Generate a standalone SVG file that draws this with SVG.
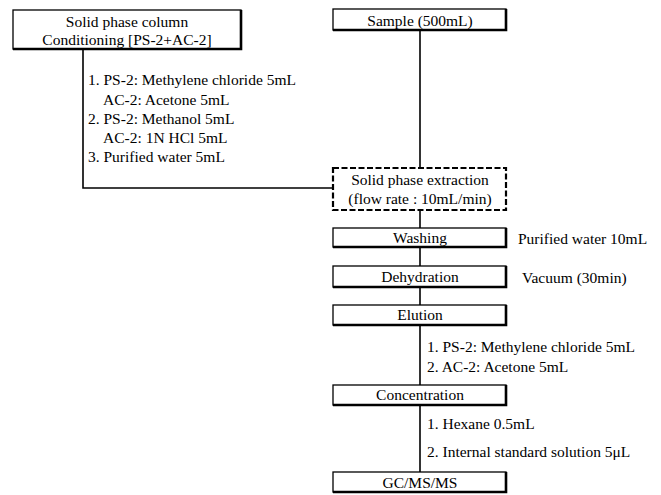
<svg xmlns="http://www.w3.org/2000/svg" width="661" height="495" viewBox="0 0 661 495">
<style>
text{font-family:"Liberation Serif","Times New Roman",serif;font-size:15.5px;fill:#000}
.c{text-anchor:middle}
.box{fill:#fff;stroke:#000;stroke-width:1.3}
.sh{fill:none;stroke:#000;stroke-width:2.6}
.dash{fill:#fff;stroke:#000;stroke-width:2.2;stroke-dasharray:6 2.5}
.ln{fill:none;stroke:#000;stroke-width:1.6}
</style>
<rect width="661" height="495" fill="#fff"/>
<g id="connectors">
<polyline class="ln" points="83,50 83,188 333,188"/>
<line class="ln" x1="420" y1="30" x2="420" y2="168"/>
<line class="ln" x1="420" y1="210" x2="420" y2="228"/>
<line class="ln" x1="420" y1="247" x2="420" y2="266"/>
<line class="ln" x1="420" y1="287" x2="420" y2="305"/>
<line class="ln" x1="420" y1="325" x2="420" y2="385"/>
<line class="ln" x1="420" y1="405" x2="420" y2="472"/>
</g>
<g id="conditioning">
<rect class="box" x="13" y="10" width="228" height="39"/>
<polyline class="sh" points="241,10 241,49 13,49"/>
<text class="c" x="127" y="27">Solid phase column</text>
<text class="c" x="127" y="45">Conditioning [PS-2+AC-2]</text>
</g>
<g id="conditioning-steps">
<text x="88" y="85">1. PS-2: Methylene chloride 5mL</text>
<text x="103" y="105">AC-2: Acetone 5mL</text>
<text x="88" y="124">2. PS-2: Methanol 5mL</text>
<text x="103" y="143">AC-2: 1N HCl 5mL</text>
<text x="88" y="162">3. Purified water 5mL</text>
</g>
<g id="sample">
<rect class="box" x="333" y="9" width="173" height="21"/>
<polyline class="sh" points="506,9 506,30 333,30"/>
<text class="c" x="420" y="26">Sample (500mL)</text>
</g>
<g id="spe">
<rect class="dash" x="333" y="168" width="173" height="42"/>
<text class="c" x="420" y="185">Solid phase extraction</text>
<text class="c" x="420" y="204">(flow rate : 10mL/min)</text>
</g>
<g id="washing">
<rect class="box" x="333" y="228" width="173" height="19"/>
<polyline class="sh" points="506,228 506,247 333,247"/>
<text class="c" x="420" y="243">Washing</text>
<text x="518" y="244">Purified water 10mL</text>
</g>
<g id="dehydration">
<rect class="box" x="333" y="266" width="173" height="21"/>
<polyline class="sh" points="506,266 506,287 333,287"/>
<text class="c" x="420" y="282">Dehydration</text>
<text x="522" y="283">Vacuum (30min)</text>
</g>
<g id="elution">
<rect class="box" x="333" y="305" width="173" height="20"/>
<polyline class="sh" points="506,305 506,325 333,325"/>
<text class="c" x="420" y="320">Elution</text>
</g>
<g id="elution-steps">
<text x="427" y="352">1. PS-2: Methylene chloride 5mL</text>
<text x="427" y="372">2. AC-2: Acetone 5mL</text>
</g>
<g id="concentration">
<rect class="box" x="333" y="385" width="173" height="20"/>
<polyline class="sh" points="506,385 506,405 333,405"/>
<text class="c" x="420" y="400">Concentration</text>
</g>
<g id="concentration-steps">
<text x="427" y="429">1. Hexane 0.5mL</text>
<text x="427" y="457">2. Internal standard solution 5μL</text>
</g>
<g id="gcmsms">
<rect class="box" x="333" y="472" width="173" height="20"/>
<polyline class="sh" points="506,472 506,492 333,492"/>
<text class="c" x="420" y="488">GC/MS/MS</text>
</g>
</svg>
